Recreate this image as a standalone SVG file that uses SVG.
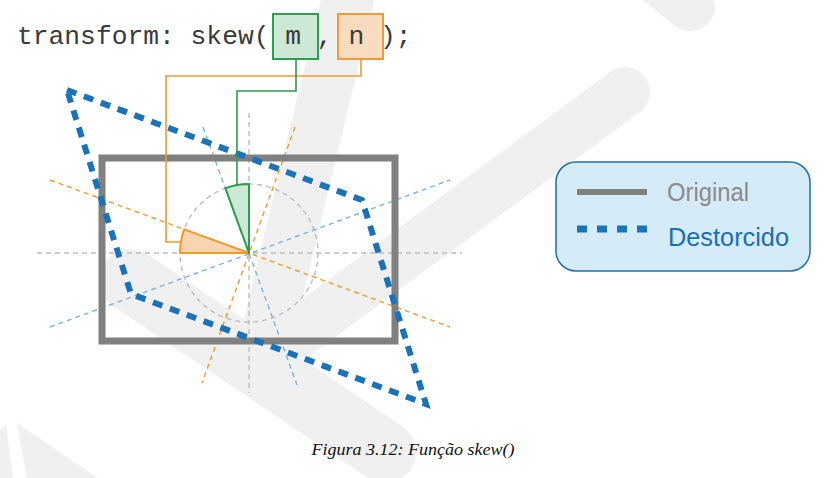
<svg xmlns="http://www.w3.org/2000/svg" width="837" height="478" viewBox="0 0 837 478">
<style>
.wm{stroke:#f0f0f0;fill:none;stroke-linecap:round}
.guide{fill:none;stroke-width:1.4;stroke-dasharray:5 4}
.g{stroke:#bdbdbd}
.o{stroke:#f29a2e}
.b{stroke:#7ab3de}
.conn{fill:none;stroke-width:1.6}
.code{font-family:"Liberation Mono","DejaVu Sans Mono",monospace;font-size:26.3px;fill:#3a3a3a}
.leg{font-family:"Liberation Sans","DejaVu Sans",sans-serif;font-size:25px}
.cap{font-family:"Liberation Serif","DejaVu Serif",serif;font-style:italic;font-size:17px;fill:#111}
</style>
<rect width="837" height="478" fill="#ffffff"/>
<g id="watermark">
<line class="wm" x1="350" y1="-10" x2="268" y2="330" stroke-width="52"/>
<line class="wm" x1="625" y1="92" x2="300" y2="332" stroke-width="50"/>
<line class="wm" x1="130" y1="280" x2="385" y2="452" stroke-width="62"/>
<line class="wm" x1="560" y1="-100" x2="690" y2="6" stroke-width="50"/>
<polygon points="0,430 6,425 13,478 0,478" fill="#f0f0f0"/>
<polygon points="17,423 27,478 97,478" fill="#f0f0f0"/>
</g>
<g id="guides">
<line class="guide g" x1="37" y1="253" x2="462" y2="253"/>
<line class="guide g" x1="249" y1="113" x2="249" y2="393"/>
<circle class="guide g" cx="249" cy="253" r="69"/>
<line class="guide o" x1="50" y1="180" x2="450" y2="327"/>
<line class="guide o" x1="295" y1="127" x2="202" y2="383"/>
<line class="guide b" x1="50" y1="327" x2="450" y2="180"/>
<line class="guide b" x1="203" y1="127" x2="297" y2="385"/>
</g>
<g id="original">
<rect x="102" y="158" width="293" height="183" fill="none" stroke="#808080" stroke-width="7"/>
</g>
<g id="distorted">
<polygon points="67,90 362,200 426,404 131,294" fill="none" stroke="#1a72b8" stroke-width="6" stroke-dasharray="10 8"/>
</g>
<g id="angle-n">
<path d="M249,253 L180,253 A69,69 0 0,1 184.2,229.4 Z" fill="#f8d5b0" stroke="#f29a2e" stroke-width="2" stroke-linejoin="round"/>
</g>
<g id="angle-m">
<path d="M249,253 L249,184 A69,69 0 0,0 225.4,188.2 Z" fill="#cce9d6" stroke="#2e9b4e" stroke-width="2" stroke-linejoin="round"/>
</g>
<g id="connectors">
<polyline class="conn" points="361,59 361,76 166,76 166,242 181,242" stroke="#f29a2e"/>
<polyline class="conn" points="296,59 296,91 237,91 237,185" stroke="#2e9b4e"/>
</g>
<g id="box-m">
<rect x="273" y="14" width="45" height="45" fill="#cde9d6" stroke="#2e9e4f" stroke-width="2"/>
</g>
<g id="box-n">
<rect x="338" y="14" width="45" height="45" fill="#f8dcbf" stroke="#f19b38" stroke-width="2"/>
</g>
<g id="code">
<text class="code" x="17" y="44">transform: skew( m , n );</text>
</g>
<g id="legend">
<rect x="556" y="162" width="254" height="109" rx="20" ry="20" fill="#d5ebf7" stroke="#1f6fae" stroke-width="1.5"/>
<line x1="577" y1="192" x2="647" y2="192" stroke="#808080" stroke-width="6"/>
<line x1="577" y1="229" x2="647" y2="229" stroke="#1a72b8" stroke-width="7" stroke-dasharray="10 10"/>
<text class="leg" x="667" y="201" fill="#8a8a8a" textLength="82" lengthAdjust="spacingAndGlyphs">Original</text>
<text class="leg" x="668" y="246" fill="#1b6fb0" textLength="121" lengthAdjust="spacingAndGlyphs">Destorcido</text>
</g>
<g id="caption">
<text class="cap" x="413" y="455" text-anchor="middle" textLength="203" lengthAdjust="spacingAndGlyphs">Figura 3.12: Função skew()</text>
</g>
</svg>
